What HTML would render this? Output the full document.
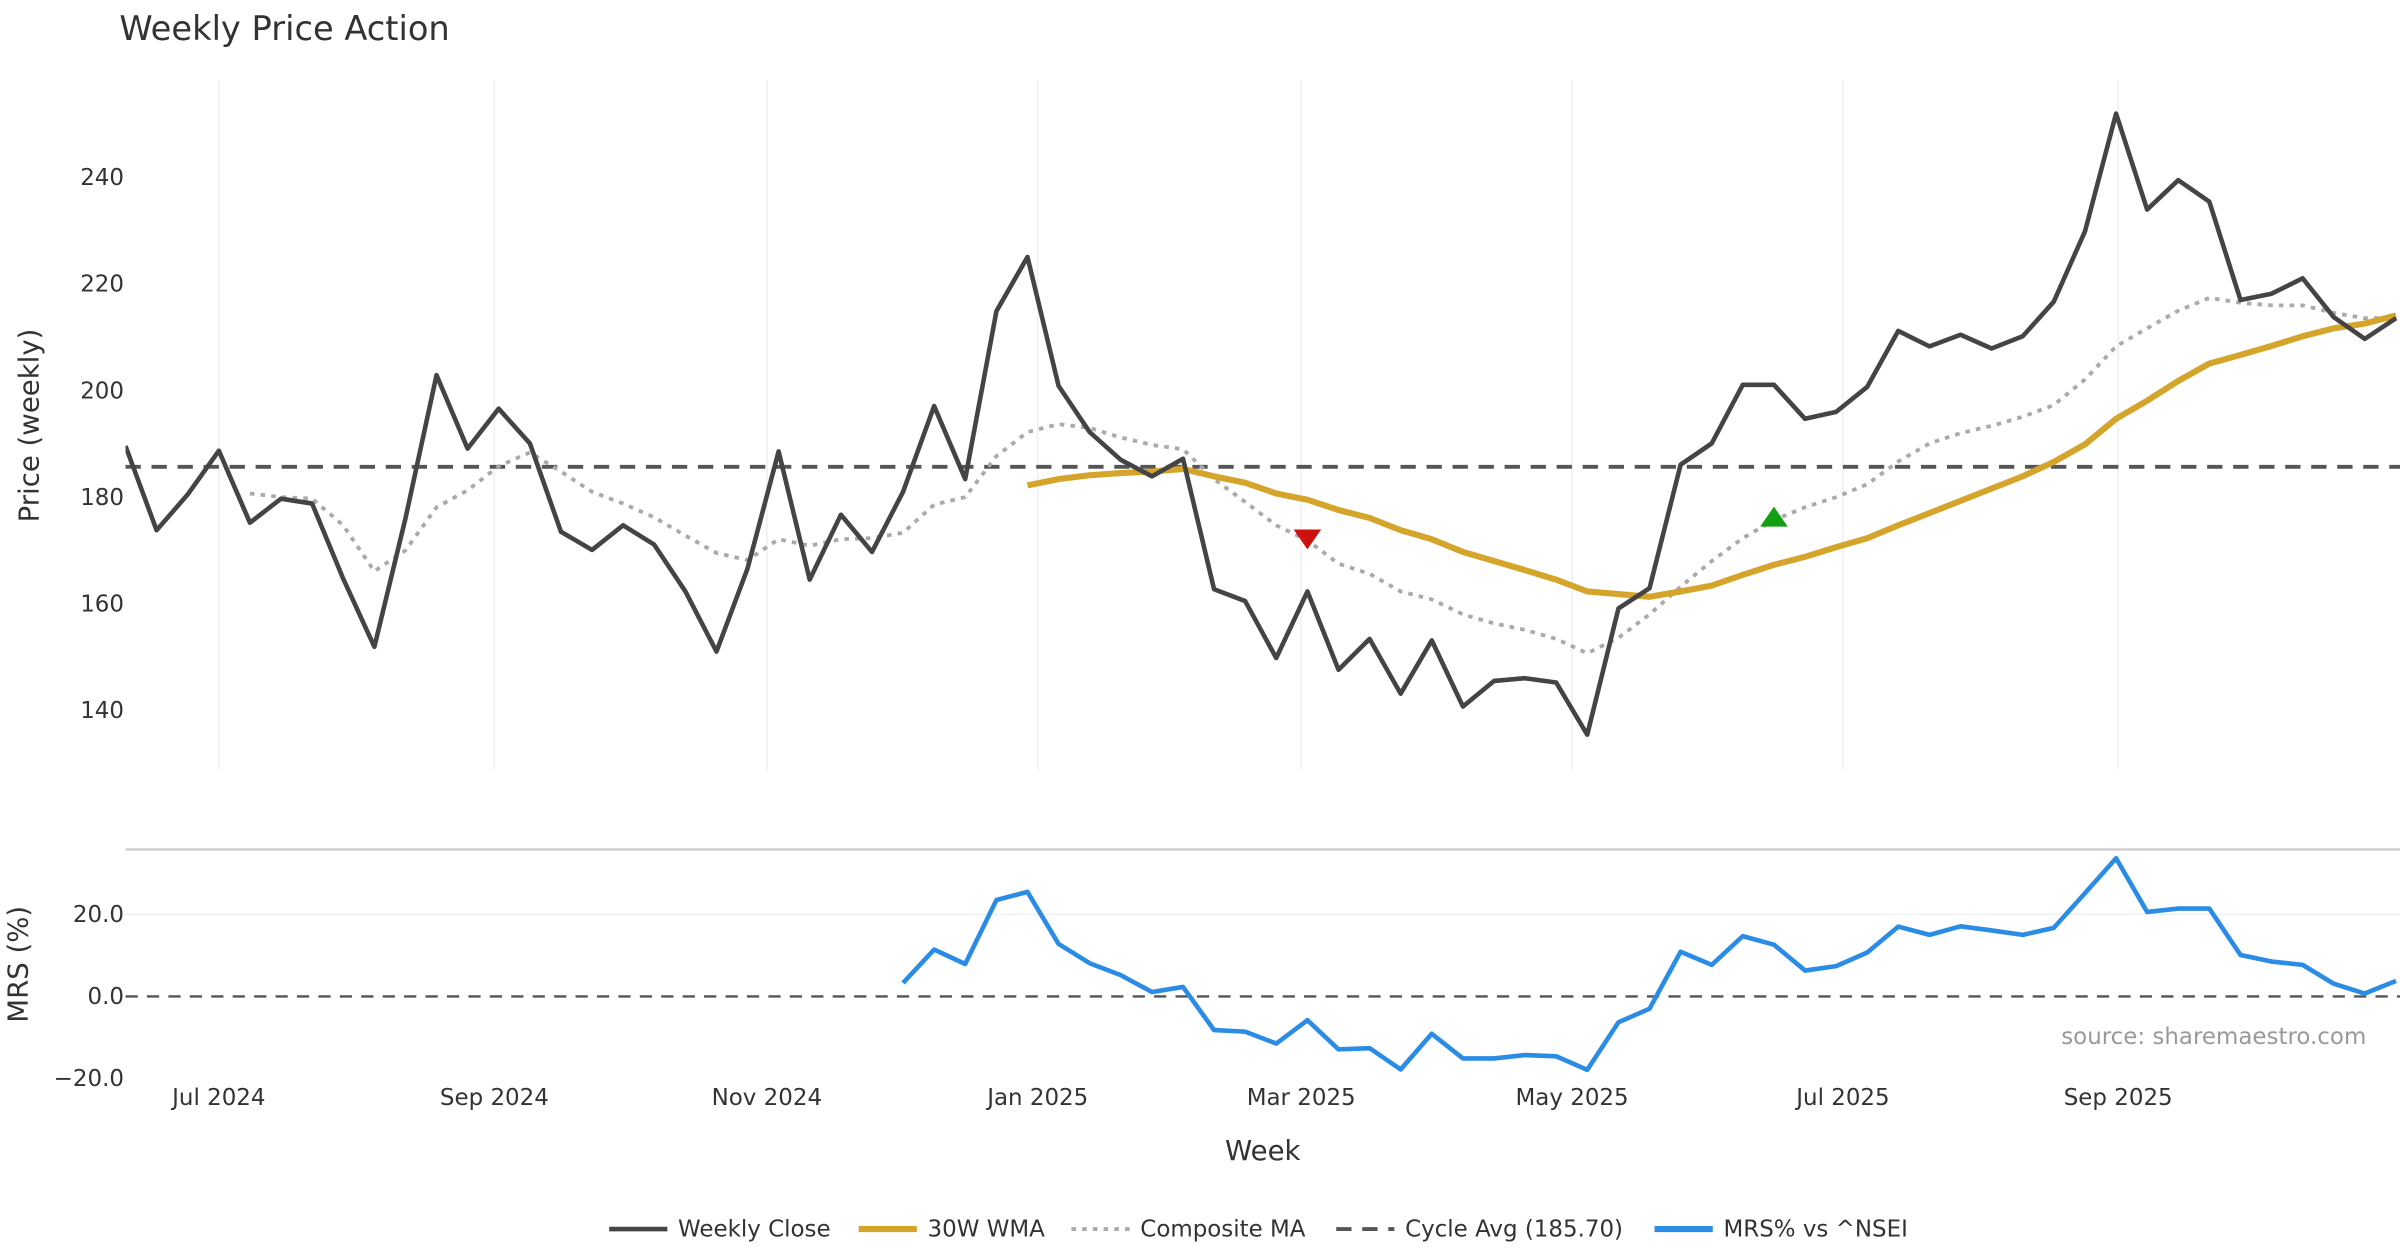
<!DOCTYPE html>
<html><head><meta charset="utf-8"><style>
html,body{margin:0;padding:0;background:#fff}
svg{display:block}
text{font-family:"DejaVu Sans","Liberation Sans",sans-serif;fill:#333}
</style></head><body>
<svg id="chart" width="2400" height="1260" viewBox="0 0 1568 823.2" preserveAspectRatio="none" xmlns="http://www.w3.org/2000/svg">
<defs><clipPath id="clipP"><rect x="82" y="40" width="1486" height="470"/></clipPath>
<clipPath id="clipM"><rect x="82" y="555" width="1486" height="155"/></clipPath></defs>
<text x="78" y="26" font-size="22">Weekly Price Action</text>
<g id="grid"></g>
<g id="price" clip-path="url(#clipP)"></g>
<g id="mrs" clip-path="url(#clipM)"></g>
<g id="axes"></g>
<text x="1546" y="682" font-size="15" text-anchor="end" style="fill:#999">source: sharemaestro.com</text>
<text x="825" y="758" font-size="18" text-anchor="middle">Week</text>
<text transform="translate(25,278) rotate(-90)" font-size="18" text-anchor="middle">Price (weekly)</text>
<text transform="translate(18,630) rotate(-90)" font-size="18" text-anchor="middle">MRS (%)</text>
<g id="legend"></g>
</svg>
<script>
const closeVals=[189.6,173.8,180.5,188.7,175.2,179.7,178.8,164.7,151.9,176,202.9,189.1,196.6,190.1,173.5,170.1,174.7,171.1,162.3,151.0,166.6,188.6,164.5,176.7,169.7,181.0,197.1,183.4,214.9,225.1,200.9,192.2,187.0,183.9,187.2,162.7,160.5,149.8,162.3,147.6,153.4,143.1,153.1,140.7,145.5,146.0,145.2,135.4,159.1,162.9,186.1,190.1,201.1,201.1,194.7,196.0,200.7,211.2,208.3,210.5,207.9,210.2,216.7,229.9,252.0,234.0,239.5,235.5,217.0,218.2,221.1,213.8,209.7,213.6];
const wmaStart=29;
const wmaVals=[182.2,183.4,184.1,184.5,184.8,185.3,183.9,182.7,180.7,179.5,177.6,176.1,173.8,172.1,169.7,168.0,166.3,164.5,162.3,161.8,161.3,162.3,163.4,165.4,167.3,168.8,170.6,172.3,174.7,177.0,179.3,181.6,183.9,186.6,189.9,194.7,198.1,201.8,205.1,206.7,208.4,210.2,211.7,212.6,214.1];
const compStart=4;
const compVals=[180.7,180.0,179.7,174.7,166.1,170,178.1,181.3,185.8,188.4,184.8,181.0,178.8,176.2,172.8,169.5,168.2,172.1,170.9,172.1,172.3,173.3,178.6,180.0,187.7,192.2,193.7,193.0,191.2,189.8,189.0,183.4,179.1,174.7,171.9,167.5,165.6,162.3,160.8,158.0,156.3,155.1,153.4,150.7,153.6,158.0,163.2,168.0,172.3,175.7,178.1,180.0,182.4,186.7,190.1,192.0,193.4,195.1,197.3,202.1,208.3,211.7,215.0,217.4,216.5,216.0,216.0,214.6,213.6,213.6];
const mrsStart=25;
const mrsVals=[3.3,11.4,7.9,23.5,25.5,12.8,8.1,5.2,1.1,2.3,-8.2,-8.6,-11.5,-5.8,-12.9,-12.6,-17.8,-9.1,-15.1,-15.1,-14.3,-14.6,-17.9,-6.3,-3.0,10.9,7.7,14.7,12.6,6.3,7.4,10.7,17.0,15.0,17.1,16.1,15.0,16.7,25.2,33.7,20.6,21.4,21.4,10.1,8.5,7.7,3.1,0.7,3.8];
const cycleAvg=185.7;
const sellIdx=38, sellVal=172.2, buyIdx=53, buyVal=176.2;
const priceTicks=[140,160,180,200,220,240];
const mrsTicks=[-20,0,20];
const monthLabels=["Jul 2024","Sep 2024","Nov 2024","Jan 2025","Mar 2025","May 2025","Jul 2025","Sep 2025"];
const monthWeekPos=[3.0,11.86,20.62,29.33,37.80,46.51,55.22,64.07];

const NS="http://www.w3.org/2000/svg";
const X=i=>82+i*20.32;
const YP=v=>116+(240-v)*3.48;
const YM=v=>651-v*2.68;
function mk(tag,attrs,parent){const e=document.createElementNS(NS,tag);for(const k in attrs)e.setAttribute(k,attrs[k]);document.getElementById(parent).appendChild(e);return e;}
function pts(vals,start,Y){return vals.map((v,i)=>X(start+i).toFixed(1)+","+Y(v).toFixed(1)).join(" ");}

monthWeekPos.forEach((w,i)=>{
  const g=mk('line',{x1:X(w),x2:X(w),y1:52,y2:503,stroke:'#eef0f3','stroke-width':1},'grid');
  
  
  const t=mk('text',{x:X(w),y:722,'font-size':15,'text-anchor':'middle'},'axes');
  t.textContent=monthLabels[i];
  
  
});
priceTicks.forEach(v=>{
  const t=mk('text',{x:81,y:YP(v)+5,'font-size':15,'text-anchor':'end'},'axes');
  t.textContent=v;
  
  
});
mrsTicks.forEach(v=>{
  const t=mk('text',{x:81,y:YM(v)+5,'font-size':15,'text-anchor':'end'},'axes');
  t.textContent=(v<0?'\u2212':'')+Math.abs(v).toFixed(1);
  
  
  if(v===20){const g=mk('line',{x1:82,x2:1568,y1:YM(v),y2:YM(v),stroke:'#eef0f3','stroke-width':1},'grid');
  
  }
});
const sep=mk('line',{x1:82,x2:1568,y1:555,y2:555,stroke:'#cccccc','stroke-width':1.5},'axes');



const cyc=mk('line',{x1:82,x2:1568,y1:YP(cycleAvg),y2:YP(cycleAvg),stroke:'#555','stroke-width':2.5,'stroke-dasharray':'10,7'},'price');


const comp=mk('polyline',{points:pts(compVals,compStart,YP),fill:'none',stroke:'#aaaaaa','stroke-width':2.5,'stroke-dasharray':'3,4'},'price');


const wma=mk('polyline',{points:pts(wmaVals,wmaStart,YP),fill:'none',stroke:'#d4a52a','stroke-width':4,'stroke-linejoin':'round'},'price');


const cl=mk('polyline',{points:pts(closeVals,0,YP),fill:'none',stroke:'#444','stroke-width':3,'stroke-linejoin':'round'},'price');


const sx=X(sellIdx),sy=YP(sellVal);
const sm=mk('polygon',{points:`${sx-9},${sy-6} ${sx+9},${sy-6} ${sx},${sy+7}`,fill:'#cc1111'},'price');


const bx=X(buyIdx),by=YP(buyVal);
const bm=mk('polygon',{points:`${bx-9},${by+6} ${bx+9},${by+6} ${bx},${by-7}`,fill:'#11a011'},'price');



const z=mk('line',{x1:82,x2:1568,y1:YM(0),y2:YM(0),stroke:'#555','stroke-width':1.5,'stroke-dasharray':'8,6'},'mrs');


const m=mk('polyline',{points:pts(mrsVals,mrsStart,YM),fill:'none',stroke:'#2b8ce6','stroke-width':3,'stroke-linejoin':'round'},'mrs');



const legItems=[["Weekly Close",398,'#444',3,''],["30W WMA",561,'#d4a52a',4,''],["Composite MA",700,'#aaaaaa',2.5,'3,4'],["Cycle Avg (185.70)",873,'#555',2.5,'10,7'],["MRS% vs ^NSEI",1081,'#2b8ce6',4,'']];
legItems.forEach(it=>{
  const l=mk('line',{x1:it[1],x2:it[1]+38,y1:803,y2:803,stroke:it[2],'stroke-width':it[3],'stroke-dasharray':it[4]},'legend');
  
  
  const t=mk('text',{x:it[1]+45,y:808,'font-size':15},'legend');
  t.textContent=it[0];
  
  
});
</script>
</body></html>
